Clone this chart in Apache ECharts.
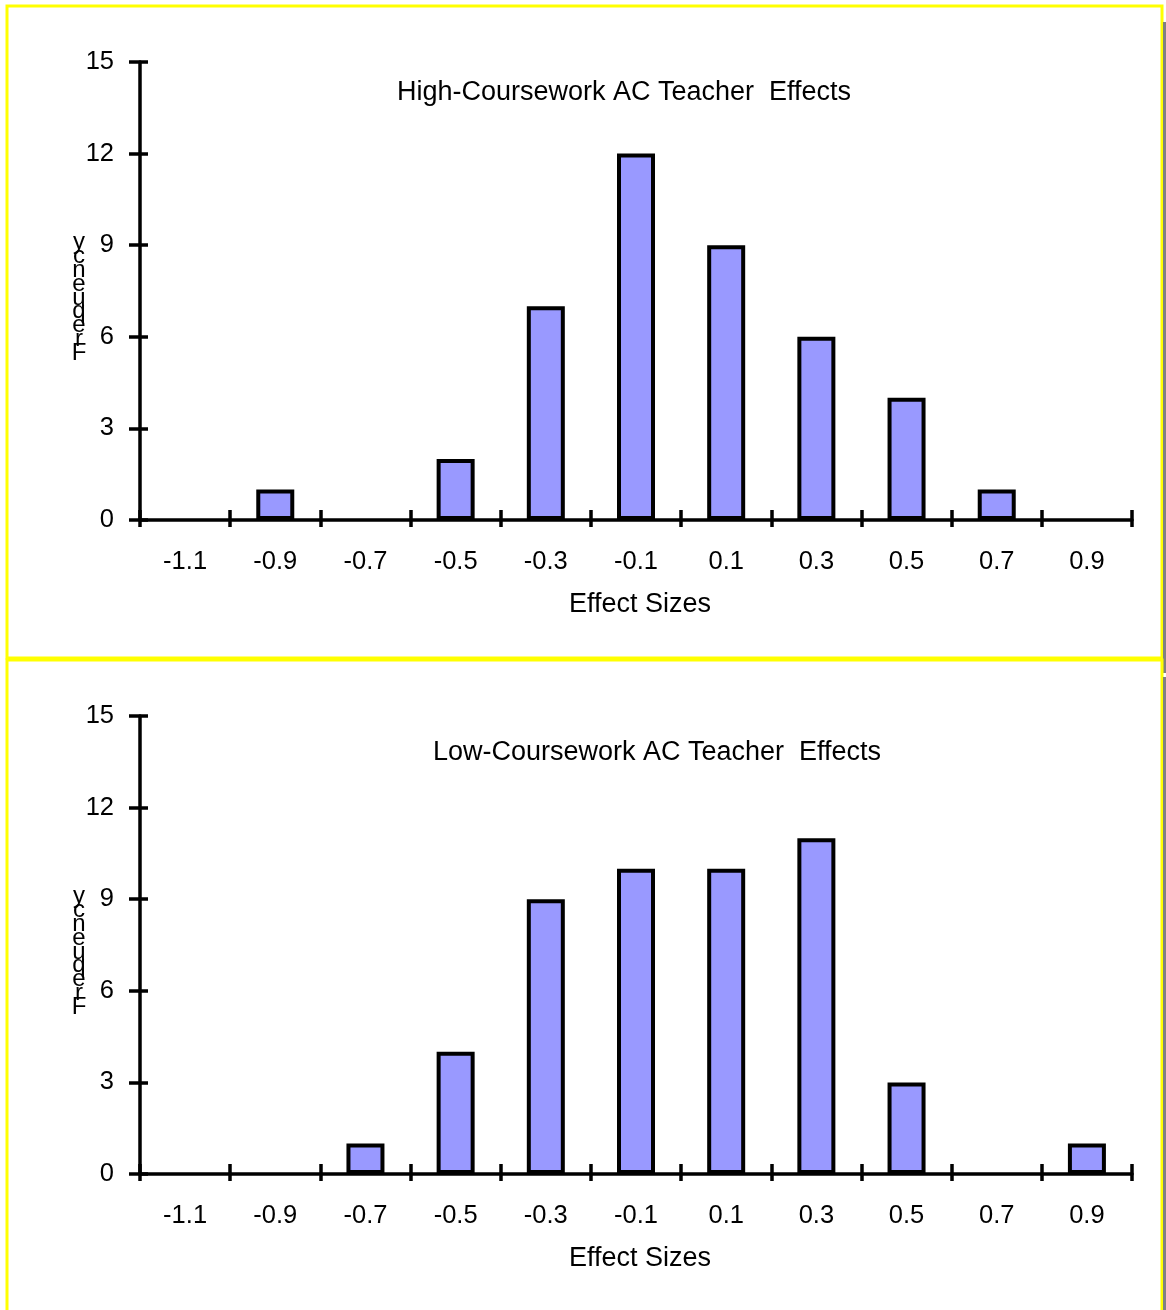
<!DOCTYPE html>
<html>
<head>
<meta charset="utf-8">
<script src="https://cdn.jsdelivr.net/npm/echarts@6/dist/echarts.min.js"></script>
<style>
  html, body { margin: 0; padding: 0; background: #fff; }
  #chart { width: 1166px; height: 1310px; }
</style>
</head>
<body>
<div id="chart"></div>
<script>
// Effect-size bins (bin midpoints)
const categories = ['-1.1', '-0.9', '-0.7', '-0.5', '-0.3', '-0.1', '0.1', '0.3', '0.5', '0.7', '0.9'];
// Number of teachers per bin
const highCoursework = [0, 1, 0, 2, 7, 12, 9, 6, 4, 1, 0];
const lowCoursework  = [0, 0, 1, 4, 9, 10, 10, 11, 3, 0, 1];
// Frequency axis
const yMin = 0, yMax = 15, yStep = 3;

const titles = ['High-Coursework AC Teacher  Effects', 'Low-Coursework AC Teacher  Effects'];
const xName = 'Effect Sizes';
const yName = 'Frequency';

const FONT = '"Liberation Sans", Arial, sans-serif';
const BLACK = '#000';

const chart = echarts.init(document.getElementById('chart'), null, { renderer: 'canvas' });

const grids = [
  { left: 140, top: 62, width: 992, height: 458 },
  { left: 140, top: 716, width: 992, height: 458 }
];

function xAxesFor(gi) {
  return [
    {
      type: 'category', gridIndex: gi, data: categories, boundaryGap: true,
      axisLine: { lineStyle: { color: BLACK, width: 3.5 } },
      axisTick: { show: true, inside: false, length: 7, lineStyle: { color: BLACK, width: 3.5 } },
      axisLabel: { color: BLACK, fontFamily: FONT, fontSize: 25.5, margin: 29, interval: 0 },
      splitLine: { show: false },
      name: xName, nameLocation: 'middle', nameGap: 71,
      nameTextStyle: { color: BLACK, fontFamily: FONT, fontSize: 27, padding: [0, 0, 0, 8] }
    },
    {
      // second pass for the upward half of the crossing ticks
      type: 'category', gridIndex: gi, data: categories, boundaryGap: true, position: 'bottom',
      axisLine: { show: false },
      axisTick: { show: true, inside: true, length: 10, lineStyle: { color: BLACK, width: 3.5 } },
      axisLabel: { show: false },
      splitLine: { show: false }
    }
  ];
}

function yAxesFor(gi) {
  return [
    {
      type: 'value', gridIndex: gi, min: yMin, max: yMax, interval: yStep,
      axisLine: { show: true, lineStyle: { color: BLACK, width: 3.5 } },
      axisTick: { show: true, inside: false, length: 11, lineStyle: { color: BLACK, width: 3.5 } },
      axisLabel: { color: BLACK, fontFamily: FONT, fontSize: 25.5, margin: 26 },
      splitLine: { show: false }
    },
    {
      type: 'value', gridIndex: gi, min: yMin, max: yMax, interval: yStep, position: 'left',
      axisLine: { show: false },
      axisTick: { show: true, inside: true, length: 8, lineStyle: { color: BLACK, width: 3.5 } },
      axisLabel: { show: false },
      splitLine: { show: false }
    }
  ];
}

function barSeries(values, axisIdx) {
  return {
    type: 'bar', xAxisIndex: axisIdx, yAxisIndex: axisIdx,
    // empty bins get no outline
    data: values.map(v => (v === 0 ? { value: v, itemStyle: { borderWidth: 0 } } : v)),
    barWidth: 38,
    itemStyle: { color: '#9999FF', borderColor: BLACK, borderWidth: 4 },
    emphasis: { disabled: true },
    animation: false,
    z: 1
  };
}

// Stacked letters of the vertical axis title
function stackedName(text) {
  return text.split('').reverse().join('\n');
}

const panelGraphics = [
  // panel frames
  { type: 'rect', shape: { x: 7, y: 6, width: 1155, height: 652 },
    style: { fill: null, stroke: '#FFFF00', lineWidth: 3 }, z: 100 },
  { type: 'rect', shape: { x: 1163, y: 22, width: 3, height: 651 },
    style: { fill: '#808080' }, z: 100 },
  { type: 'rect', shape: { x: 7, y: 660, width: 1155, height: 700 },
    style: { fill: null, stroke: '#FFFF00', lineWidth: 3 }, z: 100 },
  { type: 'rect', shape: { x: 1163, y: 677, width: 3, height: 640 },
    style: { fill: '#808080' }, z: 100 },
  // titles
  { type: 'text', x: 624, y: 93,
    style: { text: titles[0], font: '27px ' + FONT, fill: BLACK, align: 'center', verticalAlign: 'middle' } },
  { type: 'text', x: 657, y: 753,
    style: { text: titles[1], font: '27px ' + FONT, fill: BLACK, align: 'center', verticalAlign: 'middle' } },
  // vertical axis titles
  { type: 'text', x: 79, y: 298,
    style: { text: stackedName(yName), font: '24px ' + FONT, fill: BLACK, align: 'center',
             verticalAlign: 'middle', lineHeight: 13.8 } },
  { type: 'text', x: 79, y: 952,
    style: { text: stackedName(yName), font: '24px ' + FONT, fill: BLACK, align: 'center',
             verticalAlign: 'middle', lineHeight: 13.8 } }
];

chart.setOption({
  animation: false,
  backgroundColor: '#fff',
  grid: grids,
  xAxis: [...xAxesFor(0), ...xAxesFor(1)],
  yAxis: [...yAxesFor(0), ...yAxesFor(1)],
  series: [barSeries(highCoursework, 0), barSeries(lowCoursework, 2)],
  graphic: panelGraphics
});
</script>
</body>
</html>
